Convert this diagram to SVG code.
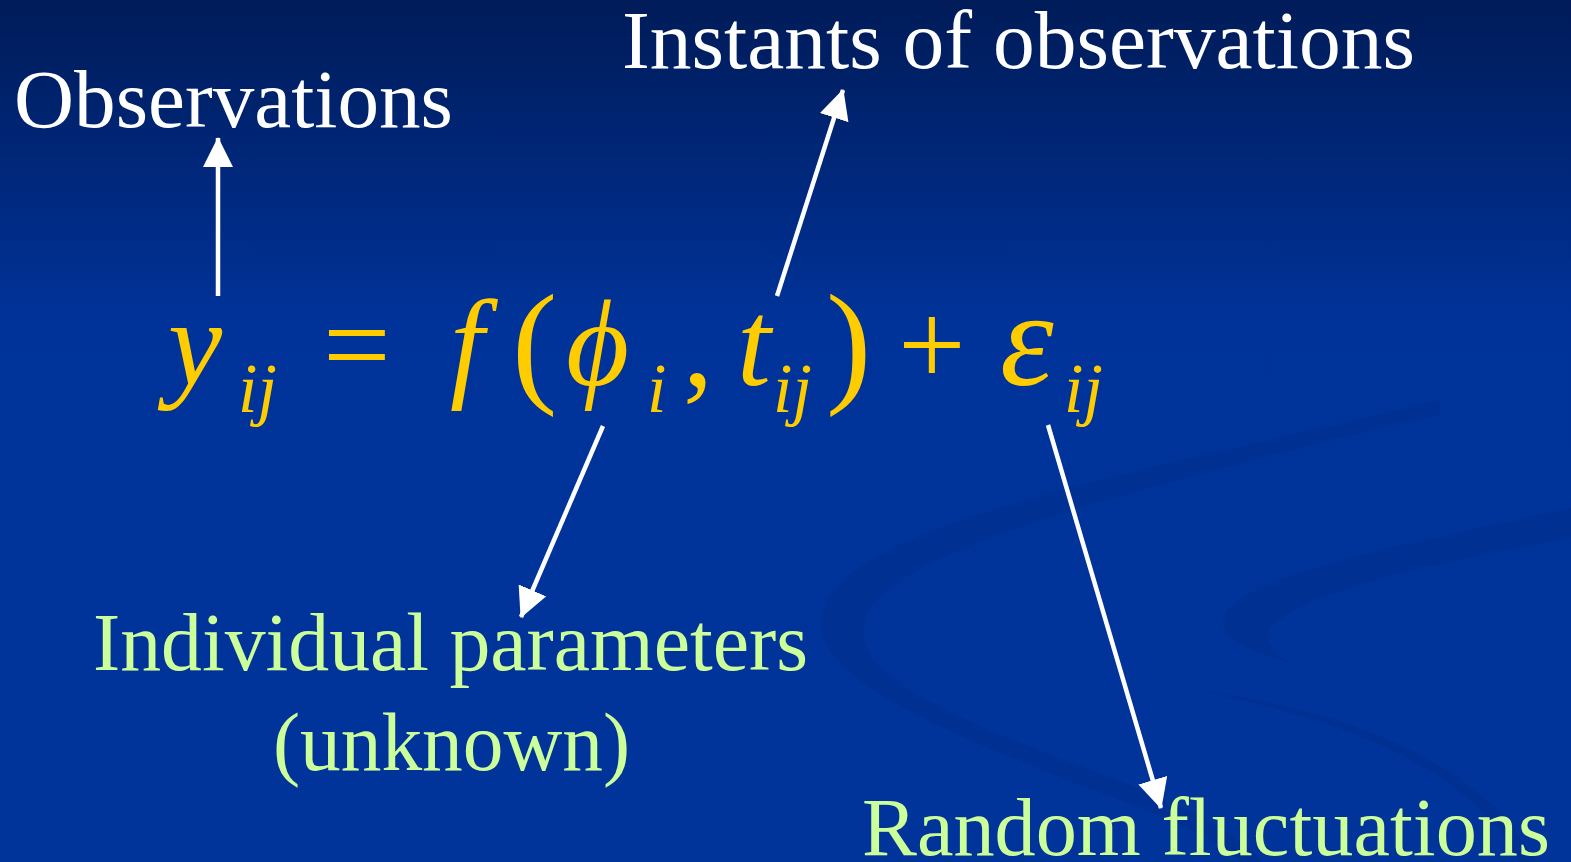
<svg xmlns="http://www.w3.org/2000/svg" width="1571" height="862" viewBox="0 0 1571 862">
<style>
.lbl{font-family:"Liberation Serif","Times New Roman",serif;font-size:83px;}
.w{fill:#ffffff;}
.g{fill:#ccff99;}
.eq{font-family:"Liberation Serif","Times New Roman",serif;fill:#ffcc00;}
.it{font-style:italic;font-size:122px;}
.sub{font-style:italic;font-size:70px;}
.up{font-size:120px;}
.par{font-size:136px;}
.conn{stroke:#ffffff;stroke-width:4.5;fill:none;}
.band{fill:#002f8e;opacity:0.7;}
</style>
<defs>
<linearGradient id="bg" x1="0" y1="0" x2="0" y2="1">
<stop offset="0" stop-color="#001b58"/>
<stop offset="0.38" stop-color="#00339a"/>
<stop offset="1" stop-color="#00349b"/>
</linearGradient>
<marker id="ah" markerUnits="userSpaceOnUse" markerWidth="30" markerHeight="30" viewBox="0 0 30 30" refX="29" refY="15" orient="auto">
<path d="M0,0 L30,15 L0,30 Z" fill="#ffffff"/>
</marker>
</defs>
<rect x="0" y="0" width="1571" height="862" fill="url(#bg)"/>
<g id="background-swirls">
<path class="band" d="M1440 400 C1150 470 860 520 825 605 C800 665 900 715 1080 785 C1160 815 1225 840 1240 862 L1262 862 C1240 830 1160 795 1065 760 C905 700 845 660 868 612 C905 545 1150 485 1440 414 Z"/>
<path class="band" d="M1571 508 C1400 545 1250 575 1226 612 C1212 640 1250 650 1292 664 C1262 645 1262 630 1282 618 C1330 585 1450 560 1571 538 Z"/>
<path class="band" opacity="0.45" d="M1195 690 C1350 720 1470 770 1520 862 L1535 862 C1490 770 1360 712 1195 690 Z"/>
</g>
<g id="node-observations"><text class="lbl w" x="14" y="127" textLength="439" lengthAdjust="spacingAndGlyphs">Observations</text></g>
<g id="node-instants"><text class="lbl w" x="622" y="68" textLength="793" lengthAdjust="spacingAndGlyphs">Instants of observations</text></g>
<g id="node-individual">
<text class="lbl g" x="93" y="670" textLength="715" lengthAdjust="spacingAndGlyphs">Individual parameters</text>
<text class="lbl g" x="273" y="770" textLength="357" lengthAdjust="spacingAndGlyphs">(unknown)</text>
</g>
<g id="node-random"><text class="lbl g" x="862" y="855" textLength="688" lengthAdjust="spacingAndGlyphs">Random fluctuations</text></g>
<g id="node-equation" class="eq">
<text class="it" x="168" y="385">y</text>
<text class="sub" x="238" y="412">ij</text>
<text class="up" x="323" y="385">=</text>
<text class="it" x="450" y="385">f</text>
<text class="par" x="512" y="388">(</text>
<text class="it" x="566" y="385">ϕ</text>
<text class="sub" x="647" y="412">i</text>
<text class="up" x="683" y="385">,</text>
<text class="it" x="737" y="385">t</text>
<text class="sub" x="773" y="412">ij</text>
<text class="par" x="826" y="388">)</text>
<text class="up" x="898" y="385">+</text>
<text class="it" x="1000" y="385" style="font-size:136px">ε</text>
<text class="sub" x="1064" y="412">ij</text>
</g>
<g id="connectors">
<line class="conn" x1="218" y1="296" x2="218" y2="138" marker-end="url(#ah)"/>
<line class="conn" x1="777" y1="296" x2="843" y2="90" marker-end="url(#ah)"/>
<line class="conn" x1="603" y1="426" x2="521" y2="617" marker-end="url(#ah)"/>
<line class="conn" x1="1048" y1="425" x2="1161" y2="808" marker-end="url(#ah)"/>
</g>
</svg>
